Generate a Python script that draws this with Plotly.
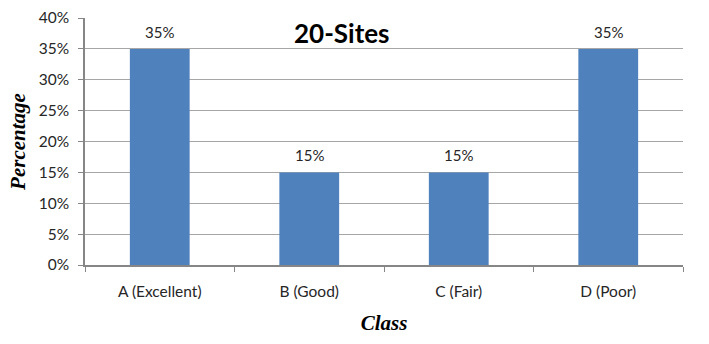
import plotly.graph_objects as go

categories = ["A (Excellent)", "B (Good)", "C (Fair)", "D (Poor)"]
values = [0.35, 0.15, 0.15, 0.35]
labels = ["35%", "15%", "15%", "35%"]
tick_vals = [0, 0.05, 0.10, 0.15, 0.20, 0.25, 0.30, 0.35, 0.40]
tick_text = ["0%", "5%", "10%", "15%", "20%", "25%", "30%", "35%", "40%"]

fig = go.Figure()
fig.add_trace(go.Bar(x=categories, y=values, marker=dict(color="#4F81BD", line=dict(width=0)),
                     showlegend=False, hoverinfo="skip"))

for c, v, t in zip(categories, values, labels):
    fig.add_annotation(x=c, y=v, text=t, showarrow=False, yanchor="bottom", yshift=6,
                       font=dict(family="Lato", size=15, color="#262626"))

fig.add_annotation(x=0.43, y=0.94, xref="paper", yref="paper", text="<b>20-Sites</b>",
                   showarrow=False, yanchor="middle", xanchor="center",
                   font=dict(family="Lato", size=26, color="#000000"))

fig.update_layout(
    width=709, height=344,
    margin=dict(l=85, r=26, t=18, b=79),
    paper_bgcolor="white", plot_bgcolor="white",
    bargap=0.6,
    font=dict(family="Lato", size=15, color="#262626"),
)
fig.update_xaxes(
    automargin=False,
    tickson="boundaries", ticks="outside", ticklen=5, tickcolor="#868686",
    showline=True, linecolor="#868686", linewidth=1.5, showgrid=False,
    tickfont=dict(family="Lato", size=15.5, color="#262626"), ticklabelstandoff=12,
    title=dict(text="<b><i>Class</i></b>", font=dict(family="Liberation Serif", size=21, color="#000"), standoff=16),
)
fig.update_yaxes(
    automargin=False,
    range=[0, 0.4], tickvals=tick_vals, ticktext=tick_text,
    ticks="outside", ticklen=5, tickcolor="#868686",
    showline=True, linecolor="#868686", linewidth=1.5,
    showgrid=True, gridcolor="#A6A6A6", gridwidth=1, zeroline=False,
    tickfont=dict(family="Lato", size=15.5, color="#262626"), ticklabelstandoff=6,
    title=dict(text="<b><i>Percentage</i></b>", font=dict(family="Liberation Serif", size=21, color="#000"), standoff=7),
)

fig.write_html("out.html", config={"displayModeBar": False},
               post_script="document.body.style.margin='0';")
